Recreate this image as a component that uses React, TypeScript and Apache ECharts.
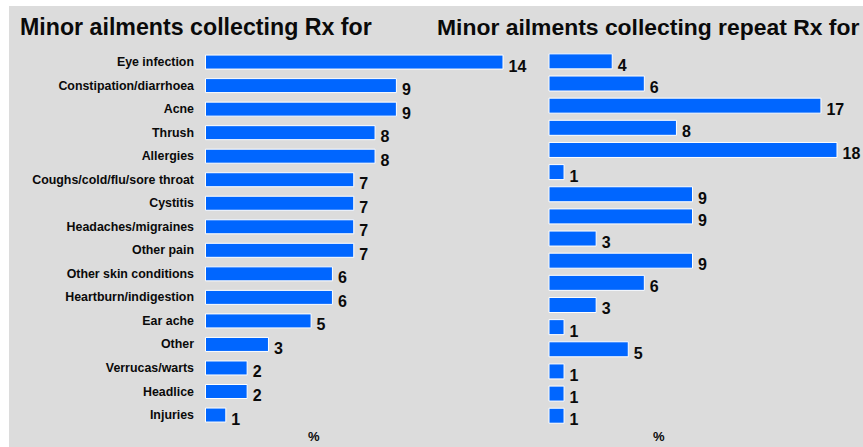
import React, { useEffect, useRef } from "react";
import * as echarts from "echarts";

const ailments = [
  "Eye infection",
  "Constipation/diarrhoea",
  "Acne",
  "Thrush",
  "Allergies",
  "Coughs/cold/flu/sore throat",
  "Cystitis",
  "Headaches/migraines",
  "Other pain",
  "Other skin conditions",
  "Heartburn/indigestion",
  "Ear ache",
  "Other",
  "Verrucas/warts",
  "Headlice",
  "Injuries",
];
const rxShares = [14, 9, 9, 8, 8, 7, 7, 7, 7, 6, 6, 5, 3, 2, 2, 1];
const repeatRxShares = [4, 6, 17, 8, 18, 1, 9, 9, 3, 9, 6, 3, 1, 5, 1, 1, 1];

const leftTitle = "Minor ailments collecting Rx for";
const rightTitle = "Minor ailments collecting repeat Rx for";
const unitLabel = "%";

const FONT = "'Liberation Sans', Arial, Helvetica, sans-serif";
const BLUE = "#0066ff";
const INK = "#0a0a0a";

export default function App() {
  const ref = useRef<HTMLDivElement>(null);

  useEffect(() => {
    document.body.style.margin = "0";
    if (!ref.current) return;
    const chart = echarts.init(ref.current, null, { renderer: "svg" });

    const valueLabel = {
      show: true,
      position: "right" as const,
      distance: 5,
      offset: [0, 4],
      color: INK,
      fontFamily: FONT,
      fontWeight: "bold" as const,
      fontSize: 16,
    };

    chart.setOption({
      animation: false,
      backgroundColor: "#ffffff",
      graphic: [
        {
          type: "rect",
          left: 9,
          top: 6,
          shape: { width: 854, height: 441 },
          style: { fill: "#dcdcdc" },
          z: -10,
          silent: true,
        },
        {
          type: "text",
          left: 20,
          top: 15,
          style: {
            text: leftTitle,
            fill: INK,
            font: `bold 23.2px ${FONT}`,
          },
        },
        {
          type: "text",
          left: 437,
          top: 15,
          style: {
            text: rightTitle,
            fill: INK,
            font: `bold 22.9px ${FONT}`,
          },
        },
        {
          type: "text",
          left: 308,
          top: 430,
          style: { text: unitLabel, fill: INK, font: `bold 13px ${FONT}` },
        },
        {
          type: "text",
          left: 653,
          top: 430,
          style: { text: unitLabel, fill: INK, font: `bold 13px ${FONT}` },
        },
      ],
      grid: [
        { left: 205, top: 50.3, width: 298.5, height: 376.5 },
        { left: 548.5, top: 50.3, width: 289, height: 376.5 },
      ],
      xAxis: [
        {
          gridIndex: 0,
          type: "value",
          min: 0,
          max: 14,
          show: false,
        },
        {
          gridIndex: 1,
          type: "value",
          min: 0,
          max: 18,
          show: false,
        },
      ],
      yAxis: [
        {
          gridIndex: 0,
          type: "category",
          inverse: true,
          data: ailments,
          axisLine: { show: false },
          axisTick: { show: false },
          axisLabel: {
            margin: 11,
            color: INK,
            fontFamily: FONT,
            fontWeight: "bold",
            fontSize: 12.4,
            padding: [0, 0, 6, 0],
          },
        },
        {
          gridIndex: 1,
          type: "category",
          inverse: true,
          data: repeatRxShares.map((_, i) => String(i + 1)),
          show: false,
        },
      ],
      series: [
        {
          type: "bar",
          xAxisIndex: 0,
          yAxisIndex: 0,
          data: rxShares,
          barWidth: 15,
          itemStyle: { color: BLUE, borderColor: "#ffffff", borderWidth: 1 },
          label: valueLabel,
        },
        {
          type: "bar",
          xAxisIndex: 1,
          yAxisIndex: 1,
          data: repeatRxShares,
          barWidth: 16,
          itemStyle: { color: BLUE, borderColor: "#ffffff", borderWidth: 1 },
          label: valueLabel,
        },
      ],
    });

    return () => chart.dispose();
  }, []);

  return <div ref={ref} style={{ width: 863, height: 447 }} />;
}
